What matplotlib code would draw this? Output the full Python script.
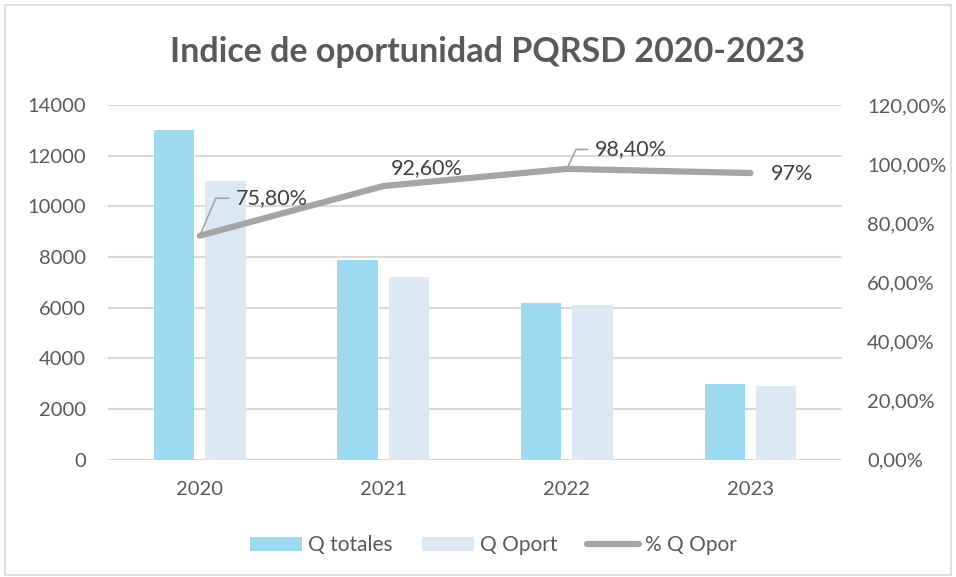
import matplotlib
matplotlib.use("Agg")
import matplotlib.pyplot as plt
import numpy as np
from matplotlib.patches import Rectangle
from matplotlib.ticker import FuncFormatter, MultipleLocator

years = ["2020", "2021", "2022", "2023"]
q_totales = [13000, 7900, 6200, 3000]
q_oport = [11000, 7200, 6100, 2900]
pct_q_opor = [0.758, 0.926, 0.984, 0.97]
pct_labels = ["75,80%", "92,60%", "98,40%", "97%"]

TEXT_GREY = "#595959"
LABEL_GREY = "#404040"
plt.rcParams["font.family"] = ["Lato", "DejaVu Sans"]

fig = plt.figure(figsize=(9.56, 5.77), dpi=100)
ax = fig.add_axes([0.113, 0.203, 0.768, 0.615])
ax2 = ax.twinx()

x = np.arange(len(years))
w = 0.22
ax.bar(x - 0.14, q_totales, width=w, color="#9dd9f1", label="Q totales", zorder=2)
ax.bar(x + 0.14, q_oport, width=w, color="#dde8f5", label="Q Oport", zorder=2)
ax2.plot(x, pct_q_opor, color="#a5a5a5", lw=4.5, solid_capstyle="round",
         label="% Q Opor", zorder=3)

ax.set_xlim(-0.5, 3.5)
ax.set_ylim(0, 14000)
ax2.set_ylim(0, 1.2)
ax.yaxis.set_major_locator(MultipleLocator(2000))
ax2.yaxis.set_major_locator(MultipleLocator(0.2))
ax2.yaxis.set_major_formatter(FuncFormatter(lambda v, p: f"{v * 100:.2f}%".replace(".", ",")))
ax.set_xticks(x)
ax.set_xticklabels(years)
ax.grid(axis="y", color="#d9d9d9", lw=1.5, zorder=0)
ax.set_axisbelow(True)

for a in (ax, ax2):
    for s in a.spines.values():
        s.set_visible(False)
ax.tick_params(axis="y", length=0, pad=16, labelsize=14.5, labelcolor=TEXT_GREY)
ax.tick_params(axis="x", length=0, pad=15, labelsize=14.5, labelcolor=TEXT_GREY)
ax2.tick_params(axis="y", length=0, pad=18, labelsize=14.5, labelcolor=TEXT_GREY)

# data labels for the line
lbl_size = 15.5
leader = dict(arrowstyle="-", color="#a5a5a5", lw=1.2, relpos=(0, 0.5), shrinkA=3, shrinkB=0)
ax2.annotate(pct_labels[0], (x[0], pct_q_opor[0]), xytext=(26, 27), textcoords="offset points",
             ha="left", va="center", fontsize=lbl_size, color=LABEL_GREY,
             arrowprops=dict(leader, connectionstyle="angle,angleA=0,angleB=67,rad=0"))
ax2.annotate(pct_labels[1], (x[1], pct_q_opor[1]), xytext=(31, 13), textcoords="offset points",
             ha="center", va="center", fontsize=lbl_size, color=LABEL_GREY)
ax2.annotate(pct_labels[2], (x[2], pct_q_opor[2]), xytext=(20, 14), textcoords="offset points",
             ha="left", va="center", fontsize=lbl_size, color=LABEL_GREY,
             arrowprops=dict(leader, connectionstyle="angle,angleA=0,angleB=65,rad=0"))
ax2.annotate(pct_labels[3], (x[3], pct_q_opor[3]), xytext=(15, -1), textcoords="offset points",
             ha="left", va="center", fontsize=lbl_size, color=LABEL_GREY)

fig.text(0.51, 0.91, "Indice de oportunidad PQRSD 2020-2023", ha="center", va="center",
         fontsize=24.5, fontweight="bold", color=TEXT_GREY)

h1, l1 = ax.get_legend_handles_labels()
h2, l2 = ax2.get_legend_handles_labels()
fig.legend(h1 + h2, l1 + l2, loc="center", bbox_to_anchor=(0.516, 0.055), ncol=3,
           frameon=False, fontsize=15, labelcolor=TEXT_GREY, handlelength=2.5,
           handletextpad=0.3, columnspacing=1.4)

fig.patches.append(Rectangle((0.005, 0.003), 0.99, 0.988, transform=fig.transFigure,
                             fill=False, edgecolor="#d9d9d9", lw=1.2))

fig.savefig("out.png", dpi=100)
